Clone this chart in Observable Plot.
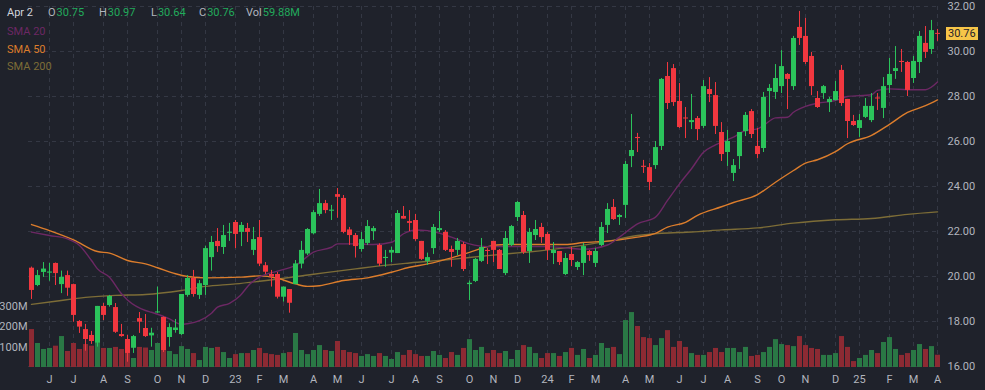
<!DOCTYPE html>
<html><head><meta charset="utf-8">
<script src="https://cdn.jsdelivr.net/npm/d3@7"></script>
<script src="https://cdn.jsdelivr.net/npm/@observablehq/plot@0.6"></script>
<style>
html,body{margin:0;padding:0;background:#1f222b;}
#wrap{position:relative;width:985px;height:390px;background:#1f222b;overflow:hidden;font-family:Roboto,"DejaVu Sans",sans-serif;font-size:11px;}
#wrap svg{position:absolute;left:0;top:0;}
.t{position:absolute;white-space:nowrap;line-height:13px;}
</style></head><body><div id="wrap"></div>
<script>
// ---------- data (weekly bars, first week 2022-05-09) ----------
const firstWeek = [2022, 4, 9];
const open = [20.37,19.6,20.18,20.15,20.58,19.64,20.04,19.64,18.0,17.64,
17.38,17.04,18.67,18.71,18.62,17.42,17.2,16.81,18.13,17.69,
17.36,18.38,18.18,17.29,17.6,17.42,19.16,19.91,19.16,19.6,
20.84,21.56,21.29,21.92,22.4,21.96,22.13,21.16,21.73,20.48,
20.09,20.09,19.08,19.42,19.64,20.55,21.0,21.9,22.76,23.24,
22.9,23.64,23.47,22.07,21.82,21.2,21.47,22.0,21.38,20.8,
21.04,21.02,22.67,22.44,22.49,21.56,20.67,21.24,22.04,21.96,
21.2,21.16,21.42,19.64,19.78,20.67,21.16,21.56,21.16,20.13,
21.38,22.62,22.71,21.11,21.82,22.18,21.87,21.02,21.11,20.09,
20.98,20.4,20.58,21.11,20.58,21.38,22.27,23.07,22.62,23.16,
25.33,26.18,24.9,24.84,24.93,25.78,28.89,29.24,27.78,27.04,
26.84,27.02,26.67,28.31,28.04,26.4,25.51,24.58,25.33,26.44,
27.33,25.78,25.69,28.22,28.18,28.44,28.98,28.44,31.07,30.67,
29.78,27.91,28.13,27.73,27.82,29.16,27.87,26.89,26.58,27.07,
26.93,27.93,27.47,28.49,29.11,29.56,29.51,28.8,29.51,30.36,
30.09,30.79];
const high = [20.42,20.27,20.62,20.58,20.6,20.24,20.24,19.66,18.04,17.87,
17.56,18.67,18.8,19.16,18.8,17.87,17.38,17.38,18.4,18.31,
17.7,19.53,18.2,17.9,18.09,19.2,20.04,20.27,19.82,21.35,
21.78,22.13,22.27,22.36,22.49,22.4,22.36,22.18,22.49,20.62,
20.27,20.18,19.53,19.42,20.71,21.56,22.13,22.93,23.87,23.38,
23.16,23.91,23.6,22.18,21.91,21.96,22.49,22.22,21.45,21.16,
21.3,22.93,23.11,22.93,22.76,21.56,21.04,22.31,22.89,22.04,
21.35,21.69,21.51,19.8,20.8,21.69,21.24,21.56,21.2,22.0,
22.27,23.33,22.89,22.13,22.49,22.36,21.96,21.51,21.11,21.02,
21.29,20.67,21.47,21.16,21.24,22.4,23.24,23.42,22.76,25.11,
27.2,26.36,25.16,25.02,26.0,28.8,29.51,29.42,28.58,27.51,
28.09,27.11,28.71,28.84,28.62,26.84,26.49,25.2,26.4,27.29,
27.42,26.58,28.18,28.53,29.42,30.04,29.02,30.67,31.78,31.47,
29.96,28.22,28.49,27.96,28.67,29.38,27.87,27.16,27.2,27.91,
28.13,28.13,28.84,29.69,30.22,30.09,29.56,29.78,30.89,31.11,
31.38,30.98];
const low = [18.98,19.55,19.96,19.79,19.6,19.24,19.12,17.97,17.47,16.68,
16.98,16.86,18.04,18.64,17.47,17.3,16.19,16.58,17.47,17.29,
16.86,18.36,16.62,16.86,17.48,17.38,19.08,19.08,18.98,19.16,
20.24,21.07,20.98,21.56,21.24,21.33,21.51,20.93,20.44,20.09,
19.53,19.0,18.86,18.37,19.64,20.34,20.93,21.85,22.67,22.79,
22.49,22.59,21.9,21.38,20.82,21.08,21.38,21.6,20.44,20.41,
20.62,21.02,22.55,22.0,21.56,20.71,20.49,20.98,21.96,21.11,
20.41,20.93,20.22,18.93,19.73,20.62,20.53,20.62,20.31,20.04,
21.33,22.44,20.98,20.58,21.6,21.47,20.71,20.53,20.49,20.04,
20.44,20.27,20.04,20.67,20.4,21.33,21.91,22.49,22.27,22.58,
24.84,25.51,24.58,23.82,24.76,25.6,27.42,27.56,26.58,26.13,
26.53,26.04,26.58,27.73,26.31,25.11,24.89,24.22,24.76,26.22,
26.13,25.24,25.51,27.07,27.87,28.13,27.42,28.27,30.27,29.42,
28.04,27.47,27.87,27.29,27.8,27.56,26.13,26.67,26.18,27.02,
26.84,27.38,27.02,28.13,28.76,29.07,28.0,28.58,29.02,29.69,
29.87,30.45];
const close = [19.38,20.04,20.33,20.2,20.13,19.96,19.48,18.27,17.75,17.2,
17.11,18.67,18.27,19.11,17.52,17.33,16.58,17.33,17.97,17.33,
17.48,18.42,16.71,17.73,17.71,19.2,19.91,19.2,19.68,21.24,
21.51,21.33,21.82,21.96,21.87,22.27,21.96,21.64,20.55,20.19,
19.97,19.08,19.53,18.81,20.56,21.16,22.09,22.84,23.24,22.93,
22.95,23.52,21.96,21.82,21.33,21.64,22.22,22.13,20.55,20.85,
21.16,22.8,22.55,22.36,21.64,20.76,20.84,22.18,22.13,21.16,
21.07,21.56,20.31,19.7,20.76,21.29,21.11,21.16,20.31,21.69,
22.22,23.29,21.07,21.96,22.09,21.73,21.16,21.16,20.62,20.8,
20.71,20.62,21.33,20.93,21.11,22.18,22.98,22.53,22.71,24.98,
25.6,26.13,24.85,24.18,25.73,28.76,27.69,27.73,26.62,27.0,
26.93,26.53,28.44,28.09,26.67,25.42,26.0,24.93,26.4,27.16,
26.31,25.42,27.96,28.36,28.8,29.33,28.76,30.58,30.58,29.51,
28.44,27.51,28.44,27.87,28.22,27.69,26.89,26.71,26.93,27.56,
27.56,27.89,28.44,28.98,29.24,29.51,28.27,29.56,30.67,29.96,
30.93,30.76];
const volume = [185,117,88,93,104,151,78,117,88,112,
104,150,93,93,98,88,100,44,98,95,
83,117,93,78,63,102,88,68,34,98,
93,98,73,44,63,68,68,83,93,68,
63,59,68,73,166,83,63,83,107,83,
78,127,83,73,68,54,63,54,68,54,
39,73,59,83,63,54,54,78,59,44,
73,59,93,136,83,98,68,83,68,78,
39,83,107,98,68,44,68,68,54,73,
93,59,88,44,59,117,93,98,63,229,
268,200,146,141,107,141,180,98,127,98,
68,59,59,73,93,73,93,93,73,98,
54,59,73,98,136,112,107,102,151,107,
93,88,59,59,68,151,98,29,44,59,
83,68,122,146,88,59,68,83,112,88,
102,59.88];
// moving averages: [week index, value]
const sma20 = [[0,21.97],[3,21.82],[6,21.67],[8,21.38],[10,20.71],[11,20.34],[13,19.97],[15,19.23],[16,18.96],[19,18.49],[20,18.41],[23,18.12],[25,17.87],[26,17.9],[28,18.04],[30,18.37],[31,18.64],[33,18.81],[34.8,19.16],[36.4,19.67],[38,19.97],[41,20.24],[44,20.49],[47,21.08],[50,21.3],[51,21.45],[54,21.45],[57,21.42],[60,21.52],[62,21.9],[64,22.07],[66,22.04],[70,21.75],[73,21.45],[76,21.33],[79,21.33],[86,21.33],[89,21.27],[92,21.21],[96,21.4],[98,21.75],[101,22.34],[104,22.64],[106,23.38],[108,24.12],[110,24.79],[112,25.52],[114,25.85],[117,26.19],[119,26.49],[121,26.56],[122,26.71],[124,27.05],[126,27.08],[127,27.3],[129,27.56],[131,27.7],[134,27.82],[136,28.0],[140,28.08],[141,28.27],[143,28.34],[146,28.3],[149,28.3],[151,28.64]];
const sma50 = [[0,22.31],[3,22.04],[7,21.63],[11,21.11],[13,21.04],[16,20.71],[19,20.56],[21,20.39],[24,20.12],[26,20.0],[29,19.94],[35,19.97],[38,20.03],[41,19.92],[44,19.67],[46,19.56],[48,19.59],[52,19.82],[56,19.94],[60,20.19],[63,20.41],[66,20.56],[70,20.83],[73,21.07],[76,21.33],[79,21.42],[86,21.42],[89,21.42],[92,21.51],[96,21.57],[98,21.63],[101,21.75],[104,21.92],[106,22.19],[109,22.41],[111,22.72],[115,23.1],[117,23.29],[121,23.64],[124,24.19],[127,24.71],[129,25.04],[131,25.19],[134,25.55],[136,25.9],[140,26.27],[143,26.76],[146,27.29],[149,27.59],[151,27.85]];
const sma200 = [[0,18.76],[4,18.9],[9,19.07],[14,19.16],[19,19.2],[25,19.38],[29,19.56],[34,19.67],[38,19.79],[47,20.1],[54,20.34],[57,20.44],[63,20.6],[70,20.76],[76,20.93],[82,21.07],[89,21.27],[96,21.57],[101,21.82],[105,21.92],[110,21.98],[115,22.07],[121,22.16],[127,22.37],[134,22.52],[140,22.58],[146,22.76],[151,22.87]];
const monthLabels = ["J","J","A","S","O","N","D","23","F","M","A","M","J","J","A","S","O","N","D","24","F","M","A","M","J","J","A","S","O","N","D","25","F","M","A"];
const firstMonth = [2022, 5];
const priceTicks = [16,18,20,22,24,26,28,30,32];
const volTicks = [100,200,300];
const lastPrice = 30.76;

// ---------- styles ----------
const BG = "#1f222b", GRID = "#343844", TEXT = "#b2b5be";
const UP = "#2bc35b", DOWN = "#f1373f", VUP = "#2a7845", VDOWN = "#8c2a33";
const C20 = "#6c2864", C50 = "#dc7d2c", C200 = "#7d6d37";
const W = 985, H = 390, ML = 28, MR = 45, MT = 6, MB = 24;

const DAY = 864e5;
const weekDate = i => new Date(Date.UTC(firstWeek[0], firstWeek[1], firstWeek[2]) + i * 7 * DAY);
const bars = close.map((c, i) => ({
  date: weekDate(i), open: open[i], high: high[i], low: low[i], close: c, volume: volume[i],
  up: c >= open[i],
  lo: Math.min(open[i], c), hi: Math.max(Math.max(open[i], c), Math.min(open[i], c) + 0.045)
}));
const xDomain = [new Date(+bars[0].date - 3.5 * DAY), new Date(+bars[bars.length - 1].date + 3.5 * DAY)];

// month ticks: first weekly bar whose week reaches the 1st of the month
const tickDates = monthLabels.map((_, k) => {
  const m = Date.UTC(firstMonth[0], firstMonth[1] + k, 1);
  const b = bars.find(b => +b.date + 4 * DAY >= m);
  return b.date;
});
const labelOf = new Map(tickDates.map((d, k) => [+d, monthLabels[k]]));
const smaData = arr => arr.map(([i, v]) => ({date: weekDate(i), v}));

const baseStyle = {background: "transparent", color: TEXT, fontSize: "11px", fontFamily: "Roboto, sans-serif", overflow: "visible"};

// layer 1: grid
const gridPlot = Plot.plot({
  width: W, height: H, marginLeft: ML, marginRight: MR, marginTop: MT, marginBottom: MB,
  x: {type: "utc", domain: xDomain, axis: null},
  y: {domain: [16, 32], axis: null},
  style: {...baseStyle, background: BG},
  marks: [
    Plot.gridY(priceTicks, {stroke: GRID, strokeOpacity: 1, strokeDasharray: "4,4"}),
    Plot.gridX(tickDates, {stroke: GRID, strokeOpacity: 1, strokeDasharray: "4,4"})
  ]
});

// layer 2: volume
const volPlot = Plot.plot({
  width: W, height: H, marginLeft: ML, marginRight: MR, marginTop: MT, marginBottom: 23,
  x: {type: "utc", domain: xDomain, axis: null},
  y: {domain: [0, 1761], axis: "left", ticks: volTicks, tickFormat: d => d + "M", tickSize: 0, tickPadding: 1, label: null},
  color: {type: "identity"},
  style: baseStyle,
  marks: [
    Plot.ruleX(bars, {x: "date", y1: 0, y2: "volume", stroke: d => d.up ? VUP : VDOWN, strokeWidth: 5})
  ]
});

// layer 3: price
const pricePlot = Plot.plot({
  width: W, height: H, marginLeft: ML, marginRight: MR, marginTop: MT, marginBottom: MB,
  x: {type: "utc", domain: xDomain, ticks: tickDates, tickFormat: d => labelOf.get(+d), tickSize: 0, tickPadding: 9, label: null},
  y: {domain: [16, 32], axis: "right", ticks: priceTicks, tickFormat: d => d.toFixed(2), tickSize: 0, tickPadding: 7, label: null},
  color: {type: "identity"},
  style: baseStyle,
  marks: [
    Plot.line(smaData(sma200), {x: "date", y: "v", stroke: C200, strokeWidth: 1.4, curve: "monotone-x"}),
    Plot.line(smaData(sma50), {x: "date", y: "v", stroke: C50, strokeWidth: 1.4, curve: "monotone-x"}),
    Plot.line(smaData(sma20), {x: "date", y: "v", stroke: C20, strokeWidth: 1.4, curve: "monotone-x"}),
    Plot.ruleX(bars, {x: "date", y1: "low", y2: "high", stroke: d => d.up ? UP : DOWN, strokeWidth: 1}),
    Plot.ruleX(bars, {x: "date", y1: "lo", y2: "hi", stroke: d => d.up ? UP : DOWN, strokeWidth: 5})
  ]
});

const wrap = document.getElementById("wrap");
wrap.append(gridPlot, volPlot, pricePlot);

// header and legend text
function addText(txt, left, top, color, extra) {
  const s = document.createElement("div");
  s.className = "t"; s.textContent = txt;
  s.style.left = left + "px"; s.style.top = top + "px"; s.style.color = color;
  if (extra) Object.assign(s.style, extra);
  wrap.append(s);
  return s;
}
const VAL = "#22ab5c", LAB = "#b2b5be";
addText("Apr 2", 7, 6, "#d1d4dc");
const hdr = [["O", "30.75", 48], ["H", "30.97", 99], ["L", "30.64", 151], ["C", "30.76", 199], ["Vol", "59.88M", 246]];
hdr.forEach(([l, v, x]) => {
  const s = addText("", x, 6, LAB);
  const a = document.createElement("span"); a.textContent = l;
  const b = document.createElement("span"); b.textContent = v; b.style.color = VAL; b.style.marginLeft = "1px";
  s.append(a, b);
});
addText("SMA 20", 7, 24.5, C20);
addText("SMA 50", 7, 42.5, C50);
addText("SMA 200", 7, 60, C200);

// last price tag
const yLast = pricePlot.scale("y").apply(lastPrice);
addText(lastPrice.toFixed(2), 946, yLast - 6.5, "#1f222b", {background: "#f6c548", padding: "0 2px", height: "13px", lineHeight: "13px"});
</script></body></html>
